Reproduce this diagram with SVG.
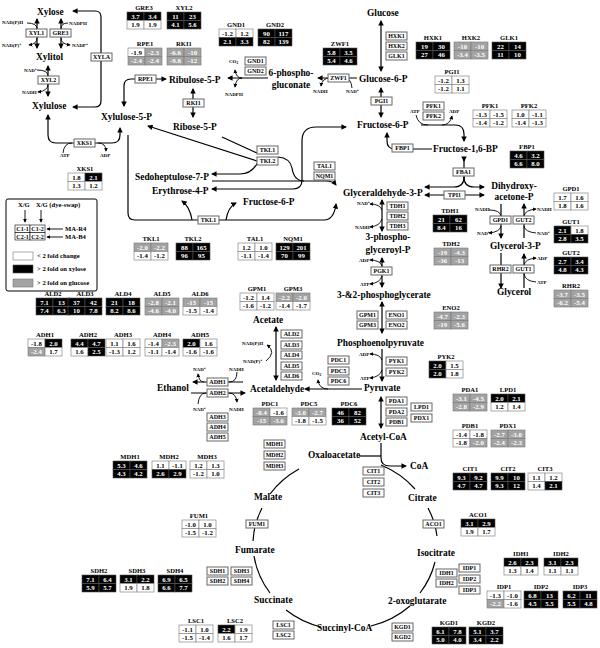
<svg xmlns="http://www.w3.org/2000/svg" width="600" height="648" viewBox="0 0 600 648">
<defs>
<marker id="ah" viewBox="0 0 6 6" refX="5" refY="3" markerWidth="5.5" markerHeight="5.5" markerUnits="userSpaceOnUse" orient="auto-start-reverse"><path d="M0,0 L6,3 L0,6 z" fill="#000"/></marker>
<marker id="as" viewBox="0 0 6 6" refX="5" refY="3" markerWidth="4" markerHeight="4" markerUnits="userSpaceOnUse" orient="auto-start-reverse"><path d="M0,0 L6,3 L0,6 z" fill="#000"/></marker>
</defs>
<style>
text{font-family:"Liberation Serif","Times New Roman",serif;font-weight:bold}
.m{font-size:9.4px}
.c{font-size:5px}
.tt{font-size:6.6px;text-anchor:middle}
.v{font-size:6.8px;text-anchor:middle}
.et{font-size:6px;text-anchor:middle}
.lg{font-size:6.6px}
.k{fill:#000;stroke:#555;stroke-width:0.6}
.g{fill:#a3a3a3;stroke:#777;stroke-width:0.6}
.w{fill:#fff;stroke:#888;stroke-width:0.7}
.vk,.vg{fill:#fff}
.vw{fill:#000}
.eb{fill:#fff;stroke:#666;stroke-width:1}
.ln{fill:none;stroke:#000;stroke-width:1.2}
.lc{fill:none;stroke:#000;stroke-width:0.9}
.ar{marker-end:url(#ah)}
.ab{marker-start:url(#ah);marker-end:url(#ah)}
.sc{marker-end:url(#as)}
</style>
<rect width="600" height="648" fill="#fff"/>

<g id="connectors">
<!-- xylose -->
<path class="ln ab" d="M37,19 V48"/>
<path class="lc" d="M27,23 Q37,23 37,29"/>
<path class="lc sc" d="M37,38 Q37,44 29,45"/>
<path class="ln ab" d="M61,19 V48"/>
<path class="lc" d="M68,23 Q61,23 61,29"/>
<path class="lc sc" d="M61,38 Q61,44 70,45"/>
<path class="ln ab" d="M48,66 V96"/>
<path class="lc" d="M37,70 Q48,70 48,76"/>
<path class="lc sc" d="M48,84 Q48,91 38,92"/>
<path class="ln ab" d="M73,11 H95 Q101,11 101,17 V101 Q101,107 95,107 H73"/>
<path class="ln ab" d="M48,115 V135 Q48,143 56,143 H112 Q120,143 120,135 V128"/>
<path class="lc" d="M63,153 Q64,143 72,143"/>
<path class="lc sc" d="M98,143 Q106,143 106,151"/>
<!-- PPP -->
<path class="ln ab" d="M124,106 V86 Q124,79 131,79 H166"/>
<path class="ln ab" d="M193,89 V117"/>
<path class="ln ar" d="M268,78 H228"/>
<path class="lc sc" d="M242,78 Q236,78 235,70"/>
<path class="lc sc" d="M242,78 Q236,78 235,87"/>
<path class="ln ar" d="M357,78 H318"/>
<path class="lc" d="M352,88 Q351,78 345,78"/>
<path class="lc sc" d="M330,78 Q322,78 321,86"/>
<path class="ln ar" d="M257,161 L148,126"/>
<path class="ln" d="M222,137 L257,153"/>
<path class="ln ar" d="M258,162 Q252,174 240,174 H212"/>
<path class="ln ar" d="M212,181 H326 Q333,181 336,185"/>
<path class="ln" d="M278,157 Q290,158 292,168 Q294,181 304,181"/>
<path class="ln ab" d="M346,127 H316 Q302,127 302,141 V180 Q302,189 293,189 H212"/>
<path class="ln ar" d="M128,135 V213 Q128,220 135,220 H324 Q334,220 336,204"/>
<path class="ln ar" d="M226,220 Q228,207 236,203"/>
<path class="ln ar" d="M192,220 Q190,207 182,201"/>
<!-- glycolysis -->
<path class="ln ab" d="M381,21 V71"/>
<path class="ln ab" d="M381,88 V117"/>
<path class="ln ar" d="M421,125 H455 Q464,125 464,134 V141"/>
<path class="lc" d="M416,115 Q418,125 428,125"/>
<path class="lc sc" d="M442,125 Q450,125 452,116"/>
<path class="ln ar" d="M432,149 H395 Q387,149 387,141 V133"/>
<path class="ln" d="M464,160 V178"/>
<path class="ln ar" d="M464,177 Q464,187 454,187 H425"/>
<path class="ln ar" d="M464,177 Q464,187 474,187 H484"/>
<path class="ln" d="M464,161 V160" style="marker-start:url(#ah)"/>
<path class="ln ab" d="M425,195 H484"/>
<path class="ln ab" d="M382,200 V231"/>
<path class="lc sc" d="M382,210 Q380,204 370,204"/>
<path class="lc sc" d="M382,219 Q380,226 370,227"/>
<path class="ln ab" d="M382,258 V287"/>
<path class="lc sc" d="M382,266 Q380,260 370,260"/>
<path class="lc sc" d="M382,276 Q380,283 370,284"/>
<path class="ln ab" d="M382,302 V333"/>
<path class="ln ar" d="M382,349 V381"/>
<path class="lc sc" d="M382,360 Q380,354 370,354"/>
<path class="lc sc" d="M382,370 Q380,377 370,378"/>
<!-- glycerol -->
<path class="ln ar" d="M501,204 V238"/>
<path class="lc" d="M489,210 Q500,210 501,216"/>
<path class="lc sc" d="M501,226 Q500,232 489,233"/>
<path class="ln ar" d="M524,238 V204"/>
<path class="lc sc" d="M524,216 Q525,210 536,209"/>
<path class="lc" d="M536,233 Q525,232 524,226"/>
<path class="ln ar" d="M501,253 V288"/>
<path class="ln ar" d="M524,288 V254"/>
<path class="lc sc" d="M524,265 Q525,259 536,258"/>
<path class="lc" d="M536,282 Q525,281 524,274"/>
<!-- fermentation -->
<path class="ln ar" d="M362,389 H305"/>
<path class="lc sc" d="M328,389 Q319,389 318,380"/>
<path class="ln ab" d="M276,327 V380"/>
<path class="lc sc" d="M266,361 Q277,352 267,345"/>
<path class="ln ar" d="M243,382 H193"/>
<path class="lc" d="M237,372 Q237,382 229,382"/>
<path class="lc sc" d="M204,382 Q199,382 198,374"/>
<path class="ln ar" d="M191,393 H245"/>
<path class="lc" d="M198,404 Q199,393 206,393"/>
<path class="lc sc" d="M229,393 Q236,393 237,402"/>
<!-- PDH / TCA -->
<path class="ln ab" d="M381,397 V428"/>
<path class="ln ar" d="M381,443 V458 Q381,466 390,466 H406"/>
<path class="ln" d="M359,456 H381"/>
<path class="ln" d="M381,465 A92,86 0 0 1 415,489"/>
<path class="ln" d="M428,508 A92,86 0 0 1 437,536"/>
<path class="ln" d="M435,562 A92,86 0 0 1 420,593"/>
<path class="ln" d="M410,606 A92,86 0 0 1 371,626"/>
<path class="ln" d="M321,627 A92,86 0 0 1 286,610"/>
<path class="ln" d="M270,593 A92,86 0 0 1 254,556"/>
<path class="ln" d="M253,541 A92,86 0 0 1 262,508"/>
<path class="ln" d="M270,494 A92,86 0 0 1 299,469"/>
</g>

<g id="metabolites">
<text class="m" x="37" y="15">Xylose</text>
<text class="m" x="36" y="60">Xylitol</text>
<text class="m" x="32" y="109">Xylulose</text>
<text class="m" x="101" y="120">Xylulose-5-P</text>
<text class="m" x="169" y="83">Ribulose-5-P</text>
<text class="m" x="173" y="130">Ribose-5-P</text>
<text class="m" x="291" y="76" text-anchor="middle">6-phospho-</text>
<text class="m" x="291" y="88" text-anchor="middle">gluconate</text>
<text class="m" x="367" y="16">Glucose</text>
<text class="m" x="359" y="82">Glucose-6-P</text>
<text class="m" x="357" y="128">Fructose-6-P</text>
<text class="m" x="433" y="152">Fructose-1,6-BP</text>
<text class="m" x="343" y="196">Glyceraldehyde-3-P</text>
<text class="m" x="514" y="189" text-anchor="middle">Dihydroxy-</text>
<text class="m" x="514" y="200" text-anchor="middle">acetone-P</text>
<text class="m" x="388" y="240" text-anchor="middle">3-phospho-</text>
<text class="m" x="388" y="253" text-anchor="middle">glyceroyl-P</text>
<text class="m" x="337" y="298">3-&amp;2-phosphoglycerate</text>
<text class="m" x="337" y="346">Phosphoenolpyruvate</text>
<text class="m" x="364" y="391">Pyruvate</text>
<text class="m" x="360" y="440">Acetyl-CoA</text>
<text class="m" x="308" y="458">Oxaloacetate</text>
<text class="m" x="410" y="469">CoA</text>
<text class="m" x="408" y="501">Citrate</text>
<text class="m" x="417" y="556">Isocitrate</text>
<text class="m" x="388" y="604">2-oxoglutarate</text>
<text class="m" x="317" y="631">Succinyl-CoA</text>
<text class="m" x="254" y="603">Succinate</text>
<text class="m" x="235" y="553">Fumarate</text>
<text class="m" x="254" y="500">Malate</text>
<text class="m" x="253" y="323">Acetate</text>
<text class="m" x="250" y="392">Acetaldehyde</text>
<text class="m" x="157" y="391">Ethanol</text>
<text class="m" x="135" y="180">Sedoheptulose-7-P</text>
<text class="m" x="152" y="194">Erythrose-4-P</text>
<text class="m" x="243" y="205">Fructose-6-P</text>
<text class="m" x="490" y="249">Glycerol-3-P</text>
<text class="m" x="497" y="295">Glycerol</text>
</g>

<g id="cofactors">
<text class="c" x="2" y="24">NAD(P)H</text>
<text class="c" x="2" y="47">NAD(P)<tspan font-size="3.5" dy="-2">+</tspan></text>
<text class="c" x="69" y="25">NADPH</text>
<text class="c" x="72" y="47">NADP<tspan font-size="3.5" dy="-2">+</tspan></text>
<text class="c" x="24" y="72">NAD<tspan font-size="3.5" dy="-2">+</tspan></text>
<text class="c" x="22" y="94">NADH</text>
<text class="c" x="60" y="157">ATP</text>
<text class="c" x="100" y="157">ADP</text>
<text class="c" x="229" y="63">CO<tspan font-size="3.5" dy="1">2</tspan></text>
<text class="c" x="225" y="96">NADPH</text>
<text class="c" x="313" y="93">NADH</text>
<text class="c" x="346" y="93">NAD<tspan font-size="3.5" dy="-2">+</tspan></text>
<text class="c" x="410" y="113">ATP</text>
<text class="c" x="449" y="113">ADP</text>
<text class="c" x="357" y="205">NAD<tspan font-size="3.5" dy="-2">+</tspan></text>
<text class="c" x="355" y="229">NADH</text>
<text class="c" x="359" y="262">ADP</text>
<text class="c" x="360" y="286">ATP</text>
<text class="c" x="359" y="356">ADP</text>
<text class="c" x="360" y="380">ATP</text>
<text class="c" x="475" y="211">NADH</text>
<text class="c" x="477" y="235">NAD<tspan font-size="3.5" dy="-2">+</tspan></text>
<text class="c" x="537" y="211">NADH</text>
<text class="c" x="537" y="235">NAD<tspan font-size="3.5" dy="-2">+</tspan></text>
<text class="c" x="537" y="260">ADP</text>
<text class="c" x="537" y="284">ATP</text>
<text class="c" x="312" y="375">CO<tspan font-size="3.5" dy="1">2</tspan></text>
<text class="c" x="242" y="345">NAD(P)H</text>
<text class="c" x="243" y="363">NAD(P)<tspan font-size="3.5" dy="-2">+</tspan></text>
<text class="c" x="193" y="371">NAD<tspan font-size="3.5" dy="-2">+</tspan></text>
<text class="c" x="229" y="371">NADH</text>
<text class="c" x="193" y="411">NAD<tspan font-size="3.5" dy="-2">+</tspan></text>
<text class="c" x="229" y="411">NADH</text>
</g>

<g id="enzymes">
<g id="e-XYL1"><rect class="eb" x="26" y="29" width="21" height="8"/><text class="et" x="36.5" y="35.2">XYL1</text></g>
<g id="e-GRE3"><rect class="eb" x="50" y="29" width="21" height="8"/><text class="et" x="60.5" y="35.2">GRE3</text></g>
<g id="e-XYL2"><rect class="eb" x="38" y="76" width="21" height="8"/><text class="et" x="48.5" y="82.2">XYL2</text></g>
<g id="e-XYLA"><rect class="eb" x="91" y="53" width="21" height="8"/><text class="et" x="101.5" y="59.2">XYLA</text></g>
<g id="e-RPE1"><rect class="eb" x="135" y="75" width="21" height="8"/><text class="et" x="145.5" y="81.2">RPE1</text></g>
<g id="e-RKI1"><rect class="eb" x="183" y="99" width="21" height="8"/><text class="et" x="193.5" y="105.2">RKI1</text></g>
<g id="e-XKS1"><rect class="eb" x="74" y="139" width="21" height="8"/><text class="et" x="84.5" y="145.2">XKS1</text></g>
<g id="e-GND1"><rect class="eb" x="245" y="57" width="21" height="8"/><text class="et" x="255.5" y="63.2">GND1</text></g>
<g id="e-GND2"><rect class="eb" x="245" y="67" width="21" height="8"/><text class="et" x="255.5" y="73.2">GND2</text></g>
<g id="e-ZWF1"><rect class="eb" x="328" y="74" width="21" height="8"/><text class="et" x="338.5" y="80.2">ZWF1</text></g>
<g id="e-HXK1"><rect class="eb" x="386" y="32" width="21" height="8"/><text class="et" x="396.5" y="38.2">HXK1</text></g>
<g id="e-HXK2"><rect class="eb" x="386" y="42" width="21" height="8"/><text class="et" x="396.5" y="48.2">HXK2</text></g>
<g id="e-GLK1"><rect class="eb" x="386" y="52" width="21" height="8"/><text class="et" x="396.5" y="58.2">GLK1</text></g>
<g id="e-PGI1"><rect class="eb" x="371" y="97" width="21" height="8"/><text class="et" x="381.5" y="103.2">PGI1</text></g>
<g id="e-PFK1"><rect class="eb" x="423" y="102" width="21" height="8"/><text class="et" x="433.5" y="108.2">PFK1</text></g>
<g id="e-PFK2"><rect class="eb" x="423" y="112" width="21" height="8"/><text class="et" x="433.5" y="118.2">PFK2</text></g>
<g id="e-FBP1"><rect class="eb" x="392" y="144" width="21" height="8"/><text class="et" x="402.5" y="150.2">FBP1</text></g>
<g id="e-FBA1"><rect class="eb" x="453" y="168" width="21" height="8"/><text class="et" x="463.5" y="174.2">FBA1</text></g>
<g id="e-TPI1"><rect class="eb" x="444" y="191" width="21" height="8"/><text class="et" x="454.5" y="197.2">TPI1</text></g>
<g id="e-TKL1"><rect class="eb" x="257" y="146" width="21" height="8"/><text class="et" x="267.5" y="152.2">TKL1</text></g>
<g id="e-TKL2"><rect class="eb" x="257" y="157" width="21" height="8"/><text class="et" x="267.5" y="163.2">TKL2</text></g>
<g id="e-TAL1"><rect class="eb" x="314" y="162" width="21" height="8"/><text class="et" x="324.5" y="168.2">TAL1</text></g>
<g id="e-NQM1"><rect class="eb" x="314" y="172" width="21" height="8"/><text class="et" x="324.5" y="178.2">NQM1</text></g>
<g id="e-TKL1b"><rect class="eb" x="198" y="216" width="21" height="8"/><text class="et" x="208.5" y="222.2">TKL1</text></g>
<g id="e-TDH1"><rect class="eb" x="387" y="202" width="21" height="8"/><text class="et" x="397.5" y="208.2">TDH1</text></g>
<g id="e-TDH2"><rect class="eb" x="387" y="212" width="21" height="8"/><text class="et" x="397.5" y="218.2">TDH2</text></g>
<g id="e-TDH3"><rect class="eb" x="387" y="222" width="21" height="8"/><text class="et" x="397.5" y="228.2">TDH3</text></g>
<g id="e-PGK1"><rect class="eb" x="371" y="267" width="21" height="8"/><text class="et" x="381.5" y="273.2">PGK1</text></g>
<g id="e-GPM1"><rect class="eb" x="357" y="311" width="21" height="8"/><text class="et" x="367.5" y="317.2">GPM1</text></g>
<g id="e-GPM3"><rect class="eb" x="357" y="321" width="21" height="8"/><text class="et" x="367.5" y="327.2">GPM3</text></g>
<g id="e-ENO1"><rect class="eb" x="386" y="311" width="21" height="8"/><text class="et" x="396.5" y="317.2">ENO1</text></g>
<g id="e-ENO2"><rect class="eb" x="386" y="321" width="21" height="8"/><text class="et" x="396.5" y="327.2">ENO2</text></g>
<g id="e-PYK1"><rect class="eb" x="386" y="357" width="21" height="8"/><text class="et" x="396.5" y="363.2">PYK1</text></g>
<g id="e-PYK2"><rect class="eb" x="386" y="368" width="21" height="8"/><text class="et" x="396.5" y="374.2">PYK2</text></g>
<g id="e-PDC1"><rect class="eb" x="328" y="356" width="21" height="8"/><text class="et" x="338.5" y="362.2">PDC1</text></g>
<g id="e-PDC5"><rect class="eb" x="328" y="367" width="21" height="8"/><text class="et" x="338.5" y="373.2">PDC5</text></g>
<g id="e-PDC6"><rect class="eb" x="328" y="377" width="21" height="8"/><text class="et" x="338.5" y="383.2">PDC6</text></g>
<g id="e-ALD2"><rect class="eb" x="281" y="330" width="21" height="8"/><text class="et" x="291.5" y="336.2">ALD2</text></g>
<g id="e-ALD3"><rect class="eb" x="281" y="341" width="21" height="8"/><text class="et" x="291.5" y="347.2">ALD3</text></g>
<g id="e-ALD4"><rect class="eb" x="281" y="351" width="21" height="8"/><text class="et" x="291.5" y="357.2">ALD4</text></g>
<g id="e-ALD5"><rect class="eb" x="281" y="362" width="21" height="8"/><text class="et" x="291.5" y="368.2">ALD5</text></g>
<g id="e-ALD6"><rect class="eb" x="281" y="372" width="21" height="8"/><text class="et" x="291.5" y="378.2">ALD6</text></g>
<g id="e-ADH1"><rect class="eb" x="207" y="378" width="21" height="8"/><text class="et" x="217.5" y="384.2">ADH1</text></g>
<g id="e-ADH2"><rect class="eb" x="207" y="389" width="21" height="8"/><text class="et" x="217.5" y="395.2">ADH2</text></g>
<g id="e-ADH3"><rect class="eb" x="207" y="413" width="21" height="8"/><text class="et" x="217.5" y="419.2">ADH3</text></g>
<g id="e-ADH4"><rect class="eb" x="207" y="423" width="21" height="8"/><text class="et" x="217.5" y="429.2">ADH4</text></g>
<g id="e-ADH5"><rect class="eb" x="207" y="433" width="21" height="8"/><text class="et" x="217.5" y="439.2">ADH5</text></g>
<g id="e-PDA1"><rect class="eb" x="386" y="397" width="21" height="8"/><text class="et" x="396.5" y="403.2">PDA1</text></g>
<g id="e-PDA2"><rect class="eb" x="386" y="408" width="21" height="8"/><text class="et" x="396.5" y="414.2">PDA2</text></g>
<g id="e-PDB1"><rect class="eb" x="386" y="418" width="21" height="8"/><text class="et" x="396.5" y="424.2">PDB1</text></g>
<g id="e-LPD1"><rect class="eb" x="411" y="403" width="21" height="8"/><text class="et" x="421.5" y="409.2">LPD1</text></g>
<g id="e-PDX1"><rect class="eb" x="411" y="414" width="21" height="8"/><text class="et" x="421.5" y="420.2">PDX1</text></g>
<g id="e-MDH1"><rect class="eb" x="264" y="440" width="21" height="8"/><text class="et" x="274.5" y="446.2">MDH1</text></g>
<g id="e-MDH2"><rect class="eb" x="264" y="451" width="21" height="8"/><text class="et" x="274.5" y="457.2">MDH2</text></g>
<g id="e-MDH3"><rect class="eb" x="264" y="462" width="21" height="8"/><text class="et" x="274.5" y="468.2">MDH3</text></g>
<g id="e-CIT1"><rect class="eb" x="363" y="467" width="21" height="8"/><text class="et" x="373.5" y="473.2">CIT1</text></g>
<g id="e-CIT2"><rect class="eb" x="363" y="478" width="21" height="8"/><text class="et" x="373.5" y="484.2">CIT2</text></g>
<g id="e-CIT3"><rect class="eb" x="363" y="489" width="21" height="8"/><text class="et" x="373.5" y="495.2">CIT3</text></g>
<g id="e-ACO1"><rect class="eb" x="423" y="520" width="21" height="8"/><text class="et" x="433.5" y="526.2">ACO1</text></g>
<g id="e-IDH1"><rect class="eb" x="436" y="569" width="21" height="8"/><text class="et" x="446.5" y="575.2">IDH1</text></g>
<g id="e-IDH2"><rect class="eb" x="436" y="579" width="21" height="8"/><text class="et" x="446.5" y="585.2">IDH2</text></g>
<g id="e-IDP1"><rect class="eb" x="459" y="564" width="21" height="8"/><text class="et" x="469.5" y="570.2">IDP1</text></g>
<g id="e-IDP2"><rect class="eb" x="459" y="575" width="21" height="8"/><text class="et" x="469.5" y="581.2">IDP2</text></g>
<g id="e-IDP3"><rect class="eb" x="459" y="586" width="21" height="8"/><text class="et" x="469.5" y="592.2">IDP3</text></g>
<g id="e-KGD1"><rect class="eb" x="392" y="623" width="21" height="8"/><text class="et" x="402.5" y="629.2">KGD1</text></g>
<g id="e-KGD2"><rect class="eb" x="392" y="633" width="21" height="8"/><text class="et" x="402.5" y="639.2">KGD2</text></g>
<g id="e-FUM1"><rect class="eb" x="246" y="520" width="22" height="8"/><text class="et" x="257" y="526.2">FUM1</text></g>
<g id="e-SDH1"><rect class="eb" x="207" y="567" width="21" height="8"/><text class="et" x="217.5" y="573.2">SDH1</text></g>
<g id="e-SDH3"><rect class="eb" x="231" y="567" width="21" height="8"/><text class="et" x="241.5" y="573.2">SDH3</text></g>
<g id="e-SDH2"><rect class="eb" x="207" y="577" width="21" height="8"/><text class="et" x="217.5" y="583.2">SDH2</text></g>
<g id="e-SDH4"><rect class="eb" x="231" y="577" width="21" height="8"/><text class="et" x="241.5" y="583.2">SDH4</text></g>
<g id="e-LSC1"><rect class="eb" x="273" y="621" width="21" height="8"/><text class="et" x="283.5" y="627.2">LSC1</text></g>
<g id="e-LSC2"><rect class="eb" x="273" y="631" width="21" height="8"/><text class="et" x="283.5" y="637.2">LSC2</text></g>
<g id="e-GPD1"><rect class="eb" x="490" y="216" width="21" height="8"/><text class="et" x="500.5" y="222.2">GPD1</text></g>
<g id="e-GUT2"><rect class="eb" x="513" y="216" width="21" height="8"/><text class="et" x="523.5" y="222.2">GUT2</text></g>
<g id="e-RHR2"><rect class="eb" x="490" y="265" width="21" height="8"/><text class="et" x="500.5" y="271.2">RHR2</text></g>
<g id="e-GUT1"><rect class="eb" x="513" y="265" width="21" height="8"/><text class="et" x="523.5" y="271.2">GUT1</text></g>
</g>

<g id="legend">
<rect x="6" y="199" width="91" height="92" fill="#fff" stroke="#000" stroke-width="1" rx="2"/>
<text class="lg" x="18" y="207">X/G</text>
<text class="lg" x="36" y="207">X/G (dye-swap)</text>
<path class="lc" d="M25,210 V222" style="marker-end:url(#as)"/>
<path class="lc" d="M41,210 V222" style="marker-end:url(#as)"/>
<rect x="15" y="225" width="15" height="7.5" fill="#fff" stroke="#000" stroke-width="0.6"/>
<rect x="30" y="225" width="15" height="7.5" fill="#fff" stroke="#000" stroke-width="0.6"/>
<rect x="15" y="232.5" width="15" height="7.5" fill="#fff" stroke="#000" stroke-width="0.6"/>
<rect x="30" y="232.5" width="15" height="7.5" fill="#fff" stroke="#000" stroke-width="0.6"/>
<text class="et" x="22.5" y="231">C1-1</text><text class="et" x="37.5" y="231">C1-2</text>
<text class="et" x="22.5" y="238.5">C2-1</text><text class="et" x="37.5" y="238.5">C2-2</text>
<path class="lc" d="M63,229 H47" style="marker-end:url(#as)"/>
<path class="lc" d="M63,237 H47" style="marker-end:url(#as)"/>
<text class="lg" x="65" y="231">MA-R4</text>
<text class="lg" x="65" y="239">MA-B4</text>
<rect class="w" x="13" y="252" width="20" height="8"/>
<text class="lg" x="37" y="258">&lt; 2 fold change</text>
<rect class="k" x="13" y="265" width="20" height="8"/>
<text class="lg" x="37" y="271">&gt; 2 fold on xylose</text>
<rect class="g" x="13" y="279" width="20" height="8"/>
<text class="lg" x="37" y="285">&gt; 2 fold on glucose</text>
</g>

<g id="tables">
<g id="t-GRE3" transform="translate(127,12)"><text class="tt" x="17" y="-2">GRE3</text><rect class="k" x="0" y="0" width="17" height="8.5"/><rect class="k" x="17" y="0" width="17" height="8.5"/><rect class="w" x="0" y="8.5" width="17" height="8.5"/><rect class="w" x="17" y="8.5" width="17" height="8.5"/><text class="v vk" x="8.5" y="6.5">3.7</text><text class="v vk" x="25.5" y="6.5">3.4</text><text class="v vw" x="8.5" y="15">1.9</text><text class="v vw" x="25.5" y="15">1.9</text></g>
<g id="t-XYL2" transform="translate(167,12)"><text class="tt" x="17" y="-2">XYL2</text><rect class="k" x="0" y="0" width="17" height="8.5"/><rect class="k" x="17" y="0" width="17" height="8.5"/><rect class="k" x="0" y="8.5" width="17" height="8.5"/><rect class="k" x="17" y="8.5" width="17" height="8.5"/><text class="v vk" x="8.5" y="6.5">11</text><text class="v vk" x="25.5" y="6.5">23</text><text class="v vk" x="8.5" y="15">4.1</text><text class="v vk" x="25.5" y="15">5.6</text></g>
<g id="t-GND1" transform="translate(219,29)"><text class="tt" x="17" y="-2">GND1</text><rect class="w" x="0" y="0" width="17" height="8.5"/><rect class="w" x="17" y="0" width="17" height="8.5"/><rect class="k" x="0" y="8.5" width="17" height="8.5"/><rect class="k" x="17" y="8.5" width="17" height="8.5"/><text class="v vw" x="8.5" y="6.5">-1.2</text><text class="v vw" x="25.5" y="6.5">1.2</text><text class="v vk" x="8.5" y="15">2.1</text><text class="v vk" x="25.5" y="15">3.3</text></g>
<g id="t-GND2" transform="translate(258,29)"><text class="tt" x="17" y="-2">GND2</text><rect class="k" x="0" y="0" width="17" height="8.5"/><rect class="k" x="17" y="0" width="17" height="8.5"/><rect class="k" x="0" y="8.5" width="17" height="8.5"/><rect class="k" x="17" y="8.5" width="17" height="8.5"/><text class="v vk" x="8.5" y="6.5">90</text><text class="v vk" x="25.5" y="6.5">117</text><text class="v vk" x="8.5" y="15">82</text><text class="v vk" x="25.5" y="15">139</text></g>
<g id="t-ZWF1" transform="translate(323,48)"><text class="tt" x="17" y="-2">ZWF1</text><rect class="k" x="0" y="0" width="17" height="8.5"/><rect class="k" x="17" y="0" width="17" height="8.5"/><rect class="k" x="0" y="8.5" width="17" height="8.5"/><rect class="k" x="17" y="8.5" width="17" height="8.5"/><text class="v vk" x="8.5" y="6.5">5.8</text><text class="v vk" x="25.5" y="6.5">3.5</text><text class="v vk" x="8.5" y="15">5.4</text><text class="v vk" x="25.5" y="15">4.6</text></g>
<g id="t-HXK1" transform="translate(416,42)"><text class="tt" x="17" y="-2">HXK1</text><rect class="k" x="0" y="0" width="17" height="8.5"/><rect class="k" x="17" y="0" width="17" height="8.5"/><rect class="k" x="0" y="8.5" width="17" height="8.5"/><rect class="k" x="17" y="8.5" width="17" height="8.5"/><text class="v vk" x="8.5" y="6.5">19</text><text class="v vk" x="25.5" y="6.5">30</text><text class="v vk" x="8.5" y="15">27</text><text class="v vk" x="25.5" y="15">46</text></g>
<g id="t-HXK2" transform="translate(454,42)"><text class="tt" x="17" y="-2">HXK2</text><rect class="g" x="0" y="0" width="17" height="8.5"/><rect class="g" x="17" y="0" width="17" height="8.5"/><rect class="g" x="0" y="8.5" width="17" height="8.5"/><rect class="g" x="17" y="8.5" width="17" height="8.5"/><text class="v vg" x="8.5" y="6.5">-10</text><text class="v vg" x="25.5" y="6.5">-10</text><text class="v vg" x="8.5" y="15">-3.4</text><text class="v vg" x="25.5" y="15">-3.5</text></g>
<g id="t-GLK1" transform="translate(492,42)"><text class="tt" x="17" y="-2">GLK1</text><rect class="k" x="0" y="0" width="17" height="8.5"/><rect class="k" x="17" y="0" width="17" height="8.5"/><rect class="k" x="0" y="8.5" width="17" height="8.5"/><rect class="k" x="17" y="8.5" width="17" height="8.5"/><text class="v vk" x="8.5" y="6.5">22</text><text class="v vk" x="25.5" y="6.5">14</text><text class="v vk" x="8.5" y="15">11</text><text class="v vk" x="25.5" y="15">10</text></g>
<g id="t-PGI1" transform="translate(435,76)"><text class="tt" x="17" y="-2">PGI1</text><rect class="w" x="0" y="0" width="17" height="8.5"/><rect class="w" x="17" y="0" width="17" height="8.5"/><rect class="w" x="0" y="8.5" width="17" height="8.5"/><rect class="w" x="17" y="8.5" width="17" height="8.5"/><text class="v vw" x="8.5" y="6.5">-1.2</text><text class="v vw" x="25.5" y="6.5">1.3</text><text class="v vw" x="8.5" y="15">-1.2</text><text class="v vw" x="25.5" y="15">1.1</text></g>
<g id="t-PFK1" transform="translate(473,110)"><text class="tt" x="17" y="-2">PFK1</text><rect class="w" x="0" y="0" width="17" height="8.5"/><rect class="w" x="17" y="0" width="17" height="8.5"/><rect class="w" x="0" y="8.5" width="17" height="8.5"/><rect class="w" x="17" y="8.5" width="17" height="8.5"/><text class="v vw" x="8.5" y="6.5">-1.3</text><text class="v vw" x="25.5" y="6.5">-1.5</text><text class="v vw" x="8.5" y="15">-1.4</text><text class="v vw" x="25.5" y="15">-1.2</text></g>
<g id="t-PFK2" transform="translate(512,110)"><text class="tt" x="17" y="-2">PFK2</text><rect class="w" x="0" y="0" width="17" height="8.5"/><rect class="w" x="17" y="0" width="17" height="8.5"/><rect class="w" x="0" y="8.5" width="17" height="8.5"/><rect class="w" x="17" y="8.5" width="17" height="8.5"/><text class="v vw" x="8.5" y="6.5">1.0</text><text class="v vw" x="25.5" y="6.5">-1.1</text><text class="v vw" x="8.5" y="15">-1.4</text><text class="v vw" x="25.5" y="15">-1.3</text></g>
<g id="t-FBP1" transform="translate(510,151)"><text class="tt" x="17" y="-2">FBP1</text><rect class="k" x="0" y="0" width="17" height="8.5"/><rect class="k" x="17" y="0" width="17" height="8.5"/><rect class="k" x="0" y="8.5" width="17" height="8.5"/><rect class="k" x="17" y="8.5" width="17" height="8.5"/><text class="v vk" x="8.5" y="6.5">4.6</text><text class="v vk" x="25.5" y="6.5">3.2</text><text class="v vk" x="8.5" y="15">6.6</text><text class="v vk" x="25.5" y="15">8.0</text></g>
<g id="t-RPE1" transform="translate(128,48)"><text class="tt" x="17" y="-2">RPE1</text><rect class="w" x="0" y="0" width="17" height="8.5"/><rect class="g" x="17" y="0" width="17" height="8.5"/><rect class="g" x="0" y="8.5" width="17" height="8.5"/><rect class="g" x="17" y="8.5" width="17" height="8.5"/><text class="v vw" x="8.5" y="6.5">-1.9</text><text class="v vg" x="25.5" y="6.5">-2.3</text><text class="v vg" x="8.5" y="15">-2.4</text><text class="v vg" x="25.5" y="15">-2.4</text></g>
<g id="t-RKI1" transform="translate(167,48)"><text class="tt" x="17" y="-2">RKI1</text><rect class="g" x="0" y="0" width="17" height="8.5"/><rect class="g" x="17" y="0" width="17" height="8.5"/><rect class="g" x="0" y="8.5" width="17" height="8.5"/><rect class="g" x="17" y="8.5" width="17" height="8.5"/><text class="v vg" x="8.5" y="6.5">-6.6</text><text class="v vg" x="25.5" y="6.5">-10</text><text class="v vg" x="8.5" y="15">-9.8</text><text class="v vg" x="25.5" y="15">-12</text></g>
<g id="t-XKS1" transform="translate(68,173)"><text class="tt" x="17" y="-2">XKS1</text><rect class="w" x="0" y="0" width="17" height="8.5"/><rect class="k" x="17" y="0" width="17" height="8.5"/><rect class="w" x="0" y="8.5" width="17" height="8.5"/><rect class="w" x="17" y="8.5" width="17" height="8.5"/><text class="v vw" x="8.5" y="6.5">1.8</text><text class="v vk" x="25.5" y="6.5">2.1</text><text class="v vw" x="8.5" y="15">1.3</text><text class="v vw" x="25.5" y="15">1.2</text></g>
<g id="t-TKL1" transform="translate(134,243)"><text class="tt" x="17" y="-2">TKL1</text><rect class="g" x="0" y="0" width="17" height="8.5"/><rect class="g" x="17" y="0" width="17" height="8.5"/><rect class="w" x="0" y="8.5" width="17" height="8.5"/><rect class="w" x="17" y="8.5" width="17" height="8.5"/><text class="v vg" x="8.5" y="6.5">-2.0</text><text class="v vg" x="25.5" y="6.5">-2.2</text><text class="v vw" x="8.5" y="15">-1.4</text><text class="v vw" x="25.5" y="15">-1.2</text></g>
<g id="t-TKL2" transform="translate(176,243)"><text class="tt" x="17" y="-2">TKL2</text><rect class="k" x="0" y="0" width="17" height="8.5"/><rect class="k" x="17" y="0" width="17" height="8.5"/><rect class="k" x="0" y="8.5" width="17" height="8.5"/><rect class="k" x="17" y="8.5" width="17" height="8.5"/><text class="v vk" x="8.5" y="6.5">88</text><text class="v vk" x="25.5" y="6.5">165</text><text class="v vk" x="8.5" y="15">96</text><text class="v vk" x="25.5" y="15">95</text></g>
<g id="t-TAL1" transform="translate(238,243)"><text class="tt" x="17" y="-2">TAL1</text><rect class="w" x="0" y="0" width="17" height="8.5"/><rect class="w" x="17" y="0" width="17" height="8.5"/><rect class="w" x="0" y="8.5" width="17" height="8.5"/><rect class="w" x="17" y="8.5" width="17" height="8.5"/><text class="v vw" x="8.5" y="6.5">1.2</text><text class="v vw" x="25.5" y="6.5">1.0</text><text class="v vw" x="8.5" y="15">-1.1</text><text class="v vw" x="25.5" y="15">-1.4</text></g>
<g id="t-NQM1" transform="translate(276,243)"><text class="tt" x="17" y="-2">NQM1</text><rect class="k" x="0" y="0" width="17" height="8.5"/><rect class="k" x="17" y="0" width="17" height="8.5"/><rect class="k" x="0" y="8.5" width="17" height="8.5"/><rect class="k" x="17" y="8.5" width="17" height="8.5"/><text class="v vk" x="8.5" y="6.5">129</text><text class="v vk" x="25.5" y="6.5">201</text><text class="v vk" x="8.5" y="15">70</text><text class="v vk" x="25.5" y="15">99</text></g>
<g id="t-GPM1" transform="translate(240,293)"><text class="tt" x="17" y="-2">GPM1</text><rect class="w" x="0" y="0" width="17" height="8.5"/><rect class="w" x="17" y="0" width="17" height="8.5"/><rect class="w" x="0" y="8.5" width="17" height="8.5"/><rect class="w" x="17" y="8.5" width="17" height="8.5"/><text class="v vw" x="8.5" y="6.5">-1.2</text><text class="v vw" x="25.5" y="6.5">1.4</text><text class="v vw" x="8.5" y="15">-1.6</text><text class="v vw" x="25.5" y="15">-1.2</text></g>
<g id="t-GPM3" transform="translate(276,293)"><text class="tt" x="17" y="-2">GPM3</text><rect class="g" x="0" y="0" width="17" height="8.5"/><rect class="g" x="17" y="0" width="17" height="8.5"/><rect class="w" x="0" y="8.5" width="17" height="8.5"/><rect class="w" x="17" y="8.5" width="17" height="8.5"/><text class="v vg" x="8.5" y="6.5">-2.2</text><text class="v vg" x="25.5" y="6.5">-2.0</text><text class="v vw" x="8.5" y="15">-1.4</text><text class="v vw" x="25.5" y="15">-1.7</text></g>
<g id="t-TDH1" transform="translate(433,215)"><text class="tt" x="17" y="-2">TDH1</text><rect class="k" x="0" y="0" width="17" height="8.5"/><rect class="k" x="17" y="0" width="17" height="8.5"/><rect class="k" x="0" y="8.5" width="17" height="8.5"/><rect class="k" x="17" y="8.5" width="17" height="8.5"/><text class="v vk" x="8.5" y="6.5">21</text><text class="v vk" x="25.5" y="6.5">62</text><text class="v vk" x="8.5" y="15">8.4</text><text class="v vk" x="25.5" y="15">16</text></g>
<g id="t-TDH2" transform="translate(434,248)"><text class="tt" x="17" y="-2">TDH2</text><rect class="g" x="0" y="0" width="17" height="8.5"/><rect class="g" x="17" y="0" width="17" height="8.5"/><rect class="g" x="0" y="8.5" width="17" height="8.5"/><rect class="g" x="17" y="8.5" width="17" height="8.5"/><text class="v vg" x="8.5" y="6.5">-19</text><text class="v vg" x="25.5" y="6.5">-4.3</text><text class="v vg" x="8.5" y="15">-36</text><text class="v vg" x="25.5" y="15">-13</text></g>
<g id="t-GPD1" transform="translate(554,193)"><text class="tt" x="17" y="-2">GPD1</text><rect class="w" x="0" y="0" width="17" height="8.5"/><rect class="w" x="17" y="0" width="17" height="8.5"/><rect class="w" x="0" y="8.5" width="17" height="8.5"/><rect class="w" x="17" y="8.5" width="17" height="8.5"/><text class="v vw" x="8.5" y="6.5">1.7</text><text class="v vw" x="25.5" y="6.5">1.6</text><text class="v vw" x="8.5" y="15">1.8</text><text class="v vw" x="25.5" y="15">1.6</text></g>
<g id="t-GUT1" transform="translate(554,226)"><text class="tt" x="17" y="-2">GUT1</text><rect class="k" x="0" y="0" width="17" height="8.5"/><rect class="w" x="17" y="0" width="17" height="8.5"/><rect class="k" x="0" y="8.5" width="17" height="8.5"/><rect class="k" x="17" y="8.5" width="17" height="8.5"/><text class="v vk" x="8.5" y="6.5">2.1</text><text class="v vw" x="25.5" y="6.5">1.8</text><text class="v vk" x="8.5" y="15">2.8</text><text class="v vk" x="25.5" y="15">3.5</text></g>
<g id="t-GUT2" transform="translate(554,257)"><text class="tt" x="17" y="-2">GUT2</text><rect class="k" x="0" y="0" width="17" height="8.5"/><rect class="k" x="17" y="0" width="17" height="8.5"/><rect class="k" x="0" y="8.5" width="17" height="8.5"/><rect class="k" x="17" y="8.5" width="17" height="8.5"/><text class="v vk" x="8.5" y="6.5">2.7</text><text class="v vk" x="25.5" y="6.5">3.4</text><text class="v vk" x="8.5" y="15">4.8</text><text class="v vk" x="25.5" y="15">4.3</text></g>
<g id="t-RHR2" transform="translate(554,290)"><text class="tt" x="17" y="-2">RHR2</text><rect class="g" x="0" y="0" width="17" height="8.5"/><rect class="g" x="17" y="0" width="17" height="8.5"/><rect class="g" x="0" y="8.5" width="17" height="8.5"/><rect class="g" x="17" y="8.5" width="17" height="8.5"/><text class="v vg" x="8.5" y="6.5">-3.7</text><text class="v vg" x="25.5" y="6.5">-3.5</text><text class="v vg" x="8.5" y="15">-6.2</text><text class="v vg" x="25.5" y="15">-5.4</text></g>
<g id="t-ENO2" transform="translate(434,312)"><text class="tt" x="17" y="-2">ENO2</text><rect class="g" x="0" y="0" width="17" height="8.5"/><rect class="g" x="17" y="0" width="17" height="8.5"/><rect class="g" x="0" y="8.5" width="17" height="8.5"/><rect class="g" x="17" y="8.5" width="17" height="8.5"/><text class="v vg" x="8.5" y="6.5">-4.7</text><text class="v vg" x="25.5" y="6.5">-2.3</text><text class="v vg" x="8.5" y="15">-19</text><text class="v vg" x="25.5" y="15">-5.6</text></g>
<g id="t-ALD2" transform="translate(36,298)"><text class="tt" x="17" y="-2">ALD2</text><rect class="k" x="0" y="0" width="17" height="8.5"/><rect class="k" x="17" y="0" width="17" height="8.5"/><rect class="k" x="0" y="8.5" width="17" height="8.5"/><rect class="k" x="17" y="8.5" width="17" height="8.5"/><text class="v vk" x="8.5" y="6.5">7.1</text><text class="v vk" x="25.5" y="6.5">13</text><text class="v vk" x="8.5" y="15">7.4</text><text class="v vk" x="25.5" y="15">6.3</text></g>
<g id="t-ALD3" transform="translate(68,298)"><text class="tt" x="17" y="-2">ALD3</text><rect class="k" x="0" y="0" width="17" height="8.5"/><rect class="k" x="17" y="0" width="17" height="8.5"/><rect class="k" x="0" y="8.5" width="17" height="8.5"/><rect class="k" x="17" y="8.5" width="17" height="8.5"/><text class="v vk" x="8.5" y="6.5">37</text><text class="v vk" x="25.5" y="6.5">42</text><text class="v vk" x="8.5" y="15">10</text><text class="v vk" x="25.5" y="15">7.8</text></g>
<g id="t-ALD4" transform="translate(106,298)"><text class="tt" x="17" y="-2">ALD4</text><rect class="k" x="0" y="0" width="17" height="8.5"/><rect class="k" x="17" y="0" width="17" height="8.5"/><rect class="k" x="0" y="8.5" width="17" height="8.5"/><rect class="k" x="17" y="8.5" width="17" height="8.5"/><text class="v vk" x="8.5" y="6.5">21</text><text class="v vk" x="25.5" y="6.5">18</text><text class="v vk" x="8.5" y="15">8.2</text><text class="v vk" x="25.5" y="15">8.6</text></g>
<g id="t-ALD5" transform="translate(145,298)"><text class="tt" x="17" y="-2">ALD5</text><rect class="g" x="0" y="0" width="17" height="8.5"/><rect class="g" x="17" y="0" width="17" height="8.5"/><rect class="g" x="0" y="8.5" width="17" height="8.5"/><rect class="g" x="17" y="8.5" width="17" height="8.5"/><text class="v vg" x="8.5" y="6.5">-2.8</text><text class="v vg" x="25.5" y="6.5">-2.1</text><text class="v vg" x="8.5" y="15">-4.6</text><text class="v vg" x="25.5" y="15">-4.0</text></g>
<g id="t-ALD6" transform="translate(183,298)"><text class="tt" x="17" y="-2">ALD6</text><rect class="g" x="0" y="0" width="17" height="8.5"/><rect class="g" x="17" y="0" width="17" height="8.5"/><rect class="w" x="0" y="8.5" width="17" height="8.5"/><rect class="w" x="17" y="8.5" width="17" height="8.5"/><text class="v vg" x="8.5" y="6.5">-15</text><text class="v vg" x="25.5" y="6.5">-15</text><text class="v vw" x="8.5" y="15">-1.5</text><text class="v vw" x="25.5" y="15">-1.4</text></g>
<g id="t-ADH1" transform="translate(28,339)"><text class="tt" x="17" y="-2">ADH1</text><rect class="w" x="0" y="0" width="17" height="8.5"/><rect class="k" x="17" y="0" width="17" height="8.5"/><rect class="g" x="0" y="8.5" width="17" height="8.5"/><rect class="w" x="17" y="8.5" width="17" height="8.5"/><text class="v vw" x="8.5" y="6.5">-1.8</text><text class="v vk" x="25.5" y="6.5">2.0</text><text class="v vg" x="8.5" y="15">-2.4</text><text class="v vw" x="25.5" y="15">1.7</text></g>
<g id="t-ADH2" transform="translate(71,339)"><text class="tt" x="17" y="-2">ADH2</text><rect class="k" x="0" y="0" width="17" height="8.5"/><rect class="k" x="17" y="0" width="17" height="8.5"/><rect class="w" x="0" y="8.5" width="17" height="8.5"/><rect class="k" x="17" y="8.5" width="17" height="8.5"/><text class="v vk" x="8.5" y="6.5">4.4</text><text class="v vk" x="25.5" y="6.5">4.7</text><text class="v vw" x="8.5" y="15">1.6</text><text class="v vk" x="25.5" y="15">2.5</text></g>
<g id="t-ADH3" transform="translate(106,339)"><text class="tt" x="17" y="-2">ADH3</text><rect class="w" x="0" y="0" width="17" height="8.5"/><rect class="w" x="17" y="0" width="17" height="8.5"/><rect class="w" x="0" y="8.5" width="17" height="8.5"/><rect class="w" x="17" y="8.5" width="17" height="8.5"/><text class="v vw" x="8.5" y="6.5">1.1</text><text class="v vw" x="25.5" y="6.5">1.6</text><text class="v vw" x="8.5" y="15">-1.3</text><text class="v vw" x="25.5" y="15">1.2</text></g>
<g id="t-ADH4" transform="translate(145,339)"><text class="tt" x="17" y="-2">ADH4</text><rect class="w" x="0" y="0" width="17" height="8.5"/><rect class="g" x="17" y="0" width="17" height="8.5"/><rect class="w" x="0" y="8.5" width="17" height="8.5"/><rect class="w" x="17" y="8.5" width="17" height="8.5"/><text class="v vw" x="8.5" y="6.5">-1.4</text><text class="v vg" x="25.5" y="6.5">-2.3</text><text class="v vw" x="8.5" y="15">-1.1</text><text class="v vw" x="25.5" y="15">-1.4</text></g>
<g id="t-ADH5" transform="translate(183,339)"><text class="tt" x="17" y="-2">ADH5</text><rect class="k" x="0" y="0" width="17" height="8.5"/><rect class="w" x="17" y="0" width="17" height="8.5"/><rect class="w" x="0" y="8.5" width="17" height="8.5"/><rect class="w" x="17" y="8.5" width="17" height="8.5"/><text class="v vk" x="8.5" y="6.5">2.0</text><text class="v vw" x="25.5" y="6.5">1.6</text><text class="v vw" x="8.5" y="15">-1.6</text><text class="v vw" x="25.5" y="15">-1.6</text></g>
<g id="t-MDH1" transform="translate(113,461)"><text class="tt" x="17" y="-2">MDH1</text><rect class="k" x="0" y="0" width="17" height="8.5"/><rect class="k" x="17" y="0" width="17" height="8.5"/><rect class="k" x="0" y="8.5" width="17" height="8.5"/><rect class="k" x="17" y="8.5" width="17" height="8.5"/><text class="v vk" x="8.5" y="6.5">5.3</text><text class="v vk" x="25.5" y="6.5">4.6</text><text class="v vk" x="8.5" y="15">4.3</text><text class="v vk" x="25.5" y="15">4.2</text></g>
<g id="t-MDH2" transform="translate(152,461)"><text class="tt" x="17" y="-2">MDH2</text><rect class="w" x="0" y="0" width="17" height="8.5"/><rect class="w" x="17" y="0" width="17" height="8.5"/><rect class="k" x="0" y="8.5" width="17" height="8.5"/><rect class="k" x="17" y="8.5" width="17" height="8.5"/><text class="v vw" x="8.5" y="6.5">1.1</text><text class="v vw" x="25.5" y="6.5">-1.1</text><text class="v vk" x="8.5" y="15">2.6</text><text class="v vk" x="25.5" y="15">2.9</text></g>
<g id="t-MDH3" transform="translate(190,461)"><text class="tt" x="17" y="-2">MDH3</text><rect class="w" x="0" y="0" width="17" height="8.5"/><rect class="w" x="17" y="0" width="17" height="8.5"/><rect class="w" x="0" y="8.5" width="17" height="8.5"/><rect class="w" x="17" y="8.5" width="17" height="8.5"/><text class="v vw" x="8.5" y="6.5">1.2</text><text class="v vw" x="25.5" y="6.5">1.3</text><text class="v vw" x="8.5" y="15">-1.2</text><text class="v vw" x="25.5" y="15">1.0</text></g>
<g id="t-PDC1" transform="translate(253,408)"><text class="tt" x="17" y="-2">PDC1</text><rect class="g" x="0" y="0" width="17" height="8.5"/><rect class="w" x="17" y="0" width="17" height="8.5"/><rect class="g" x="0" y="8.5" width="17" height="8.5"/><rect class="g" x="17" y="8.5" width="17" height="8.5"/><text class="v vg" x="8.5" y="6.5">-8.4</text><text class="v vw" x="25.5" y="6.5">-1.6</text><text class="v vg" x="8.5" y="15">-15</text><text class="v vg" x="25.5" y="15">-3.6</text></g>
<g id="t-PDC5" transform="translate(292,408)"><text class="tt" x="17" y="-2">PDC5</text><rect class="g" x="0" y="0" width="17" height="8.5"/><rect class="g" x="17" y="0" width="17" height="8.5"/><rect class="w" x="0" y="8.5" width="17" height="8.5"/><rect class="w" x="17" y="8.5" width="17" height="8.5"/><text class="v vg" x="8.5" y="6.5">-3.0</text><text class="v vg" x="25.5" y="6.5">-2.7</text><text class="v vw" x="8.5" y="15">-1.8</text><text class="v vw" x="25.5" y="15">-1.5</text></g>
<g id="t-PDC6" transform="translate(332,408)"><text class="tt" x="17" y="-2">PDC6</text><rect class="k" x="0" y="0" width="17" height="8.5"/><rect class="k" x="17" y="0" width="17" height="8.5"/><rect class="k" x="0" y="8.5" width="17" height="8.5"/><rect class="k" x="17" y="8.5" width="17" height="8.5"/><text class="v vk" x="8.5" y="6.5">46</text><text class="v vk" x="25.5" y="6.5">82</text><text class="v vk" x="8.5" y="15">36</text><text class="v vk" x="25.5" y="15">52</text></g>
<g id="t-PYK2" transform="translate(429,361)"><text class="tt" x="17" y="-2">PYK2</text><rect class="k" x="0" y="0" width="17" height="8.5"/><rect class="w" x="17" y="0" width="17" height="8.5"/><rect class="k" x="0" y="8.5" width="17" height="8.5"/><rect class="w" x="17" y="8.5" width="17" height="8.5"/><text class="v vk" x="8.5" y="6.5">2.0</text><text class="v vw" x="25.5" y="6.5">1.5</text><text class="v vk" x="8.5" y="15">2.0</text><text class="v vw" x="25.5" y="15">1.8</text></g>
<g id="t-PDA1" transform="translate(453,394)"><text class="tt" x="17" y="-2">PDA1</text><rect class="g" x="0" y="0" width="17" height="8.5"/><rect class="g" x="17" y="0" width="17" height="8.5"/><rect class="g" x="0" y="8.5" width="17" height="8.5"/><rect class="g" x="17" y="8.5" width="17" height="8.5"/><text class="v vg" x="8.5" y="6.5">-3.1</text><text class="v vg" x="25.5" y="6.5">-4.5</text><text class="v vg" x="8.5" y="15">-2.8</text><text class="v vg" x="25.5" y="15">-2.9</text></g>
<g id="t-LPD1" transform="translate(491,394)"><text class="tt" x="17" y="-2">LPD1</text><rect class="k" x="0" y="0" width="17" height="8.5"/><rect class="k" x="17" y="0" width="17" height="8.5"/><rect class="w" x="0" y="8.5" width="17" height="8.5"/><rect class="w" x="17" y="8.5" width="17" height="8.5"/><text class="v vk" x="8.5" y="6.5">2.0</text><text class="v vk" x="25.5" y="6.5">2.1</text><text class="v vw" x="8.5" y="15">1.2</text><text class="v vw" x="25.5" y="15">1.4</text></g>
<g id="t-PDB1" transform="translate(453,430)"><text class="tt" x="17" y="-2">PDB1</text><rect class="w" x="0" y="0" width="17" height="8.5"/><rect class="w" x="17" y="0" width="17" height="8.5"/><rect class="w" x="0" y="8.5" width="17" height="8.5"/><rect class="g" x="17" y="8.5" width="17" height="8.5"/><text class="v vw" x="8.5" y="6.5">-1.4</text><text class="v vw" x="25.5" y="6.5">-1.8</text><text class="v vw" x="8.5" y="15">-1.8</text><text class="v vg" x="25.5" y="15">-2.0</text></g>
<g id="t-PDX1" transform="translate(491,430)"><text class="tt" x="17" y="-2">PDX1</text><rect class="g" x="0" y="0" width="17" height="8.5"/><rect class="g" x="17" y="0" width="17" height="8.5"/><rect class="g" x="0" y="8.5" width="17" height="8.5"/><rect class="g" x="17" y="8.5" width="17" height="8.5"/><text class="v vg" x="8.5" y="6.5">-2.7</text><text class="v vg" x="25.5" y="6.5">-3.0</text><text class="v vg" x="8.5" y="15">-2.4</text><text class="v vg" x="25.5" y="15">-2.3</text></g>
<g id="t-CIT1" transform="translate(453,473)"><text class="tt" x="17" y="-2">CIT1</text><rect class="k" x="0" y="0" width="17" height="8.5"/><rect class="k" x="17" y="0" width="17" height="8.5"/><rect class="k" x="0" y="8.5" width="17" height="8.5"/><rect class="k" x="17" y="8.5" width="17" height="8.5"/><text class="v vk" x="8.5" y="6.5">9.3</text><text class="v vk" x="25.5" y="6.5">9.2</text><text class="v vk" x="8.5" y="15">4.7</text><text class="v vk" x="25.5" y="15">4.7</text></g>
<g id="t-CIT2" transform="translate(491,473)"><text class="tt" x="17" y="-2">CIT2</text><rect class="k" x="0" y="0" width="17" height="8.5"/><rect class="k" x="17" y="0" width="17" height="8.5"/><rect class="k" x="0" y="8.5" width="17" height="8.5"/><rect class="k" x="17" y="8.5" width="17" height="8.5"/><text class="v vk" x="8.5" y="6.5">9.9</text><text class="v vk" x="25.5" y="6.5">10</text><text class="v vk" x="8.5" y="15">9.3</text><text class="v vk" x="25.5" y="15">12</text></g>
<g id="t-CIT3" transform="translate(528,473)"><text class="tt" x="17" y="-2">CIT3</text><rect class="w" x="0" y="0" width="17" height="8.5"/><rect class="w" x="17" y="0" width="17" height="8.5"/><rect class="w" x="0" y="8.5" width="17" height="8.5"/><rect class="k" x="17" y="8.5" width="17" height="8.5"/><text class="v vw" x="8.5" y="6.5">1.1</text><text class="v vw" x="25.5" y="6.5">1.2</text><text class="v vw" x="8.5" y="15">1.4</text><text class="v vk" x="25.5" y="15">2.1</text></g>
<g id="t-ACO1" transform="translate(461,519)"><text class="tt" x="17" y="-2">ACO1</text><rect class="k" x="0" y="0" width="17" height="8.5"/><rect class="k" x="17" y="0" width="17" height="8.5"/><rect class="w" x="0" y="8.5" width="17" height="8.5"/><rect class="w" x="17" y="8.5" width="17" height="8.5"/><text class="v vk" x="8.5" y="6.5">3.1</text><text class="v vk" x="25.5" y="6.5">2.9</text><text class="v vw" x="8.5" y="15">1.9</text><text class="v vw" x="25.5" y="15">1.7</text></g>
<g id="t-IDH1" transform="translate(504,558)"><text class="tt" x="17" y="-2">IDH1</text><rect class="k" x="0" y="0" width="17" height="8.5"/><rect class="k" x="17" y="0" width="17" height="8.5"/><rect class="w" x="0" y="8.5" width="17" height="8.5"/><rect class="w" x="17" y="8.5" width="17" height="8.5"/><text class="v vk" x="8.5" y="6.5">2.6</text><text class="v vk" x="25.5" y="6.5">2.3</text><text class="v vw" x="8.5" y="15">1.3</text><text class="v vw" x="25.5" y="15">1.4</text></g>
<g id="t-IDH2" transform="translate(544,558)"><text class="tt" x="17" y="-2">IDH2</text><rect class="k" x="0" y="0" width="17" height="8.5"/><rect class="k" x="17" y="0" width="17" height="8.5"/><rect class="w" x="0" y="8.5" width="17" height="8.5"/><rect class="w" x="17" y="8.5" width="17" height="8.5"/><text class="v vk" x="8.5" y="6.5">3.1</text><text class="v vk" x="25.5" y="6.5">2.3</text><text class="v vw" x="8.5" y="15">1.1</text><text class="v vw" x="25.5" y="15">1.1</text></g>
<g id="t-IDP1" transform="translate(487,591)"><text class="tt" x="17" y="-2">IDP1</text><rect class="w" x="0" y="0" width="17" height="8.5"/><rect class="w" x="17" y="0" width="17" height="8.5"/><rect class="g" x="0" y="8.5" width="17" height="8.5"/><rect class="w" x="17" y="8.5" width="17" height="8.5"/><text class="v vw" x="8.5" y="6.5">-1.3</text><text class="v vw" x="25.5" y="6.5">-1.0</text><text class="v vg" x="8.5" y="15">-2.2</text><text class="v vw" x="25.5" y="15">-1.6</text></g>
<g id="t-IDP2" transform="translate(524,591)"><text class="tt" x="17" y="-2">IDP2</text><rect class="k" x="0" y="0" width="17" height="8.5"/><rect class="k" x="17" y="0" width="17" height="8.5"/><rect class="k" x="0" y="8.5" width="17" height="8.5"/><rect class="k" x="17" y="8.5" width="17" height="8.5"/><text class="v vk" x="8.5" y="6.5">6.8</text><text class="v vk" x="25.5" y="6.5">13</text><text class="v vk" x="8.5" y="15">4.5</text><text class="v vk" x="25.5" y="15">5.5</text></g>
<g id="t-IDP3" transform="translate(563,591)"><text class="tt" x="17" y="-2">IDP3</text><rect class="k" x="0" y="0" width="17" height="8.5"/><rect class="k" x="17" y="0" width="17" height="8.5"/><rect class="k" x="0" y="8.5" width="17" height="8.5"/><rect class="k" x="17" y="8.5" width="17" height="8.5"/><text class="v vk" x="8.5" y="6.5">6.2</text><text class="v vk" x="25.5" y="6.5">11</text><text class="v vk" x="8.5" y="15">5.5</text><text class="v vk" x="25.5" y="15">4.8</text></g>
<g id="t-KGD1" transform="translate(432,627)"><text class="tt" x="17" y="-2">KGD1</text><rect class="k" x="0" y="0" width="17" height="8.5"/><rect class="k" x="17" y="0" width="17" height="8.5"/><rect class="k" x="0" y="8.5" width="17" height="8.5"/><rect class="k" x="17" y="8.5" width="17" height="8.5"/><text class="v vk" x="8.5" y="6.5">6.1</text><text class="v vk" x="25.5" y="6.5">7.8</text><text class="v vk" x="8.5" y="15">5.0</text><text class="v vk" x="25.5" y="15">4.0</text></g>
<g id="t-KGD2" transform="translate(469,627)"><text class="tt" x="17" y="-2">KGD2</text><rect class="k" x="0" y="0" width="17" height="8.5"/><rect class="k" x="17" y="0" width="17" height="8.5"/><rect class="k" x="0" y="8.5" width="17" height="8.5"/><rect class="k" x="17" y="8.5" width="17" height="8.5"/><text class="v vk" x="8.5" y="6.5">5.1</text><text class="v vk" x="25.5" y="6.5">3.7</text><text class="v vk" x="8.5" y="15">3.4</text><text class="v vk" x="25.5" y="15">2.2</text></g>
<g id="t-FUM1" transform="translate(182,520)"><text class="tt" x="17" y="-2">FUM1</text><rect class="w" x="0" y="0" width="17" height="8.5"/><rect class="w" x="17" y="0" width="17" height="8.5"/><rect class="w" x="0" y="8.5" width="17" height="8.5"/><rect class="w" x="17" y="8.5" width="17" height="8.5"/><text class="v vw" x="8.5" y="6.5">-1.0</text><text class="v vw" x="25.5" y="6.5">1.0</text><text class="v vw" x="8.5" y="15">-1.5</text><text class="v vw" x="25.5" y="15">-1.2</text></g>
<g id="t-SDH2" transform="translate(82,575)"><text class="tt" x="17" y="-2">SDH2</text><rect class="k" x="0" y="0" width="17" height="8.5"/><rect class="k" x="17" y="0" width="17" height="8.5"/><rect class="k" x="0" y="8.5" width="17" height="8.5"/><rect class="k" x="17" y="8.5" width="17" height="8.5"/><text class="v vk" x="8.5" y="6.5">7.1</text><text class="v vk" x="25.5" y="6.5">6.4</text><text class="v vk" x="8.5" y="15">5.9</text><text class="v vk" x="25.5" y="15">5.7</text></g>
<g id="t-SDH3" transform="translate(120,575)"><text class="tt" x="17" y="-2">SDH3</text><rect class="k" x="0" y="0" width="17" height="8.5"/><rect class="k" x="17" y="0" width="17" height="8.5"/><rect class="w" x="0" y="8.5" width="17" height="8.5"/><rect class="w" x="17" y="8.5" width="17" height="8.5"/><text class="v vk" x="8.5" y="6.5">3.1</text><text class="v vk" x="25.5" y="6.5">2.2</text><text class="v vw" x="8.5" y="15">1.9</text><text class="v vw" x="25.5" y="15">1.8</text></g>
<g id="t-SDH4" transform="translate(158,575)"><text class="tt" x="17" y="-2">SDH4</text><rect class="k" x="0" y="0" width="17" height="8.5"/><rect class="k" x="17" y="0" width="17" height="8.5"/><rect class="k" x="0" y="8.5" width="17" height="8.5"/><rect class="k" x="17" y="8.5" width="17" height="8.5"/><text class="v vk" x="8.5" y="6.5">6.9</text><text class="v vk" x="25.5" y="6.5">6.5</text><text class="v vk" x="8.5" y="15">6.6</text><text class="v vk" x="25.5" y="15">7.7</text></g>
<g id="t-LSC1" transform="translate(179,625)"><text class="tt" x="17" y="-2">LSC1</text><rect class="w" x="0" y="0" width="17" height="8.5"/><rect class="w" x="17" y="0" width="17" height="8.5"/><rect class="w" x="0" y="8.5" width="17" height="8.5"/><rect class="w" x="17" y="8.5" width="17" height="8.5"/><text class="v vw" x="8.5" y="6.5">-1.1</text><text class="v vw" x="25.5" y="6.5">1.0</text><text class="v vw" x="8.5" y="15">-1.5</text><text class="v vw" x="25.5" y="15">-1.4</text></g>
<g id="t-LSC2" transform="translate(218,625)"><text class="tt" x="17" y="-2">LSC2</text><rect class="k" x="0" y="0" width="17" height="8.5"/><rect class="w" x="17" y="0" width="17" height="8.5"/><rect class="w" x="0" y="8.5" width="17" height="8.5"/><rect class="w" x="17" y="8.5" width="17" height="8.5"/><text class="v vk" x="8.5" y="6.5">2.2</text><text class="v vw" x="25.5" y="6.5">1.9</text><text class="v vw" x="8.5" y="15">1.6</text><text class="v vw" x="25.5" y="15">1.7</text></g>
</g>
</svg>
